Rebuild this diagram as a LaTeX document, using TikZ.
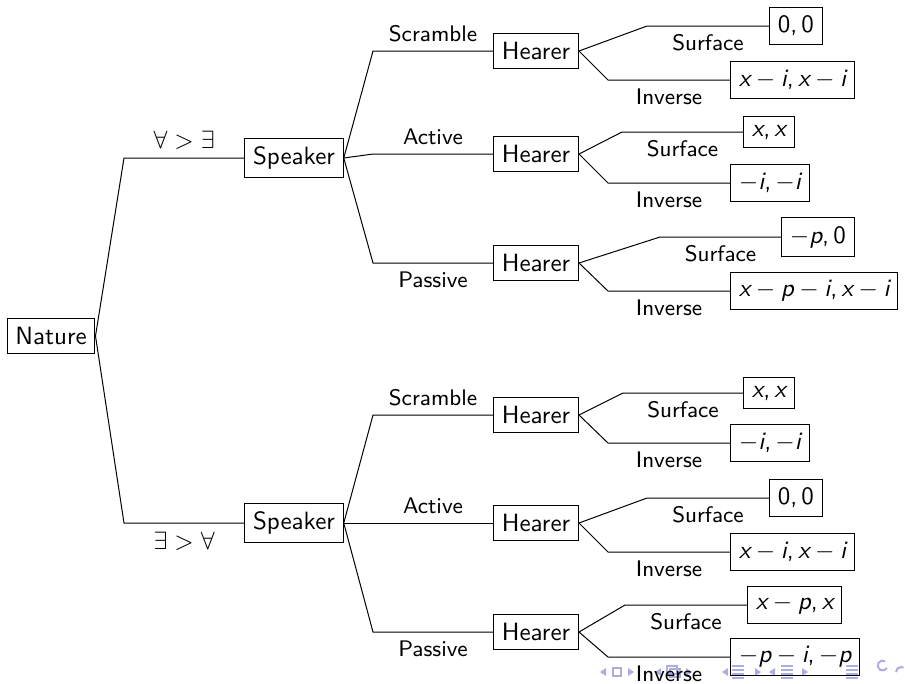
\documentclass[tikz,border=0pt]{standalone}
\definecolor{navc}{RGB}{173,173,224}
\newcommand{\mv}[1]{\mbox{\sffamily\slshape #1}}
\newcommand{\mn}[1]{\mbox{\sffamily #1}}
\newcommand{\cm}{\mathpunct{\mbox{\sffamily ,}}}
\begin{document}
\begin{tikzpicture}[x=0.4pt,y=-0.4pt,
  box/.style={draw, line width=0.4pt, font=\sffamily, inner sep=0.3333em},
  leaf/.style={box, anchor=west},
  elab/.style={font=\sffamily\small},
  qlab/.style={font=\sffamily},
  navtri/.style={fill=navc, draw=none},
  navline/.style={draw=navc, line width=0.8pt}]
\useasboundingbox (0,0) rectangle (905,683);

% --- beamer navigation symbols (approximation) ---
\fill[navtri] (600,672) -- (606,668) -- (606,676) -- cycle;
\draw[navline, line width=0.5pt] (613,668) rectangle (621,676);
\fill[navtri] (634,672) -- (628,668) -- (628,676) -- cycle;
\fill[navtri] (655,672) -- (661,668) -- (661,676) -- cycle;
\draw[navline, line width=0.5pt] (667,666) rectangle (677,674) (670,669) rectangle (680,677);
\fill[navtri] (692,672) -- (686,668) -- (686,676) -- cycle;
\fill[navtri] (722,672) -- (728,668) -- (728,676) -- cycle;
\draw[navline] (732,666) -- (744,666) (732,670) -- (744,670) (732,674) -- (744,674) (732,678) -- (744,678);
\fill[navtri] (761,672) -- (755,668) -- (755,676) -- cycle;
\fill[navtri] (769,672) -- (775,668) -- (775,676) -- cycle;
\draw[navline] (781,666) -- (793,666) (781,670) -- (793,670) (781,674) -- (793,674) (781,678) -- (793,678);
\fill[navtri] (808,672) -- (802,668) -- (802,676) -- cycle;
\draw[navline] (846,666) -- (858,666) (846,670) -- (858,670) (846,674) -- (858,674) (846,678) -- (858,678);
\draw[navline] (887,668) arc (30:300:5);
\draw[navline] (896,672) arc (180:300:5);

% --- tree ---
\node[box] (nat) at (51,336) {Nature};
\node[box] (sp1) at (294,158) {Speaker};
\node[box] (sp2) at (294,523) {Speaker};
\coordinate (c1) at (124,158);
\coordinate (c2) at (124,523);
\draw (nat.east) -- (c1) -- node[above, qlab] {$\forall > \exists$} (sp1.west);
\draw (nat.east) -- (c2) -- node[below, qlab] {$\exists > \forall$} (sp2.west);

% hearers
\node[box] (h1) at (536,51) {Hearer};
\node[box] (h2) at (536,154) {Hearer};
\node[box] (h3) at (536,263) {Hearer};
\node[box] (h4) at (536,415) {Hearer};
\node[box] (h5) at (536,523) {Hearer};
\node[box] (h6) at (536,632) {Hearer};
\coordinate (k1) at (373,51);
\coordinate (k2) at (373,154);
\coordinate (k3) at (373,263);
\coordinate (k4) at (373,415);
\coordinate (k5) at (373,523);
\coordinate (k6) at (373,632);
\draw (sp1.east) -- (k1) -- node[above, elab] {Scramble} (h1.west);
\draw (sp1.east) -- (k2) -- node[above, elab] {Active} (h2.west);
\draw (sp1.east) -- (k3) -- node[below, elab] {Passive} (h3.west);
\draw (sp2.east) -- (k4) -- node[above, elab] {Scramble} (h4.west);
\draw (sp2.east) -- (k5) -- node[above, elab] {Active} (h5.west);
\draw (sp2.east) -- (k6) -- node[below, elab] {Passive} (h6.west);

% leaves
\node[leaf] (s1) at (769,26) {$\mn{0}\cm\mn{0}$};
\node[leaf] (i1) at (730,80) {$\mv{x}-\mv{i}\cm\mv{x}-\mv{i}$};
\node[leaf] (s2) at (743,132) {$\mv{x}\cm\mv{x}$};
\node[leaf] (i2) at (730,183) {$-\mv{i}\cm-\mv{i}$};
\node[leaf] (s3) at (781,237) {$-\mv{p}\cm\mn{0}$};
\node[leaf] (i3) at (730,291) {$\mv{x}-\mv{p}-\mv{i}\cm\mv{x}-\mv{i}$};
\node[leaf] (s4) at (743,393) {$\mv{x}\cm\mv{x}$};
\node[leaf] (i4) at (730,443) {$-\mv{i}\cm-\mv{i}$};
\node[leaf] (s5) at (769,498) {$\mn{0}\cm\mn{0}$};
\node[leaf] (i5) at (730,552) {$\mv{x}-\mv{i}\cm\mv{x}-\mv{i}$};
\node[leaf] (s6) at (747,605) {$\mv{x}-\mv{p}\cm\mv{x}$};
\node[leaf] (i6) at (730,657) {$-\mv{p}-\mv{i}\cm-\mv{p}$};

\coordinate (ms1) at (647,26);
\coordinate (mi1) at (608,80);
\coordinate (ms2) at (622,132);
\coordinate (mi2) at (608,183);
\coordinate (ms3) at (660,237);
\coordinate (mi3) at (608,291);
\coordinate (ms4) at (623,393);
\coordinate (mi4) at (608,443);
\coordinate (ms5) at (647,498);
\coordinate (mi5) at (608,552);
\coordinate (ms6) at (625,605);
\coordinate (mi6) at (608,657);

\foreach \n in {1,...,6}{
  \draw (h\n.east) -- (ms\n) -- node[below, elab] {Surface} (s\n.west);
  \draw (h\n.east) -- (mi\n) -- node[below, elab] {Inverse} (i\n.west);
}
\end{tikzpicture}
\end{document}
